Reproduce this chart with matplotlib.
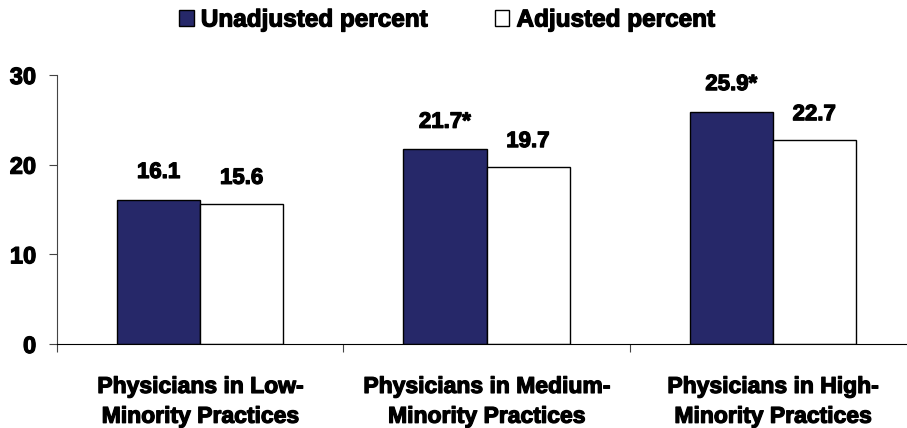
import numpy as np
import matplotlib
matplotlib.use("Agg")
import matplotlib.pyplot as plt
from matplotlib.patches import Patch
import matplotlib.patheffects as pe

categories = ["Physicians in Low-\nMinority Practices",
              "Physicians in Medium-\nMinority Practices",
              "Physicians in High-\nMinority Practices"]
unadjusted = [16.1, 21.7, 25.9]
adjusted = [15.6, 19.7, 22.7]
unadj_labels = ["16.1", "21.7*", "25.9*"]
adj_labels = ["15.6", "19.7", "22.7"]

plt.rcParams['font.family'] = ['Liberation Sans', 'DejaVu Sans']
plt.rcParams['font.weight'] = 'bold'

navy = '#262869'
heavy = [pe.withStroke(linewidth=0.9, foreground='black')]

fig = plt.figure(figsize=(9.07, 4.28), dpi=100)
ax = fig.add_axes([57/907, 1 - 344/428, 850/907, (344 - 75)/428])

x = np.arange(len(categories))
w = 0.29
ax.bar(x - w/2, unadjusted, w, color=navy, edgecolor='black', linewidth=1)
ax.bar(x + w/2, adjusted, w, color='white', edgecolor='black', linewidth=1)

for i in range(len(categories)):
    ax.annotate(unadj_labels[i], (x[i] - w/2, unadjusted[i]), xytext=(0, 12),
                textcoords='offset points', ha='center', va='bottom',
                fontsize=16, fontweight='bold', path_effects=heavy)
    ax.annotate(adj_labels[i], (x[i] + w/2, adjusted[i]), xytext=(0, 11),
                textcoords='offset points', ha='center', va='bottom',
                fontsize=16, fontweight='bold', path_effects=heavy)

ax.set_ylim(0, 30)
ax.set_yticks([0, 10, 20, 30])
ax.set_xlim(-0.5, 2.5 - 9/286)
ax.set_xticks([-0.5, 0.5, 1.5])
ax.set_xticklabels([])
ax.tick_params(axis='x', length=6, direction='out', color='#444444')
ax.tick_params(axis='y', length=6, direction='out', color='#444444', labelsize=17, pad=9)
for lab in ax.get_yticklabels():
    lab.set_fontweight('bold')
    lab.set_path_effects(heavy)

for i, c in enumerate(categories):
    ax.text(x[i], -0.115, c, transform=ax.get_xaxis_transform(), ha='center', va='top',
            fontsize=16.5, fontweight='bold', linespacing=1.38, path_effects=heavy)

ax.spines['top'].set_visible(False)
ax.spines['right'].set_visible(False)
ax.spines['left'].set_color('#444444')
ax.spines['bottom'].set_color('black')

handles = [Patch(facecolor=navy, edgecolor='black', label='Unadjusted percent'),
           Patch(facecolor='white', edgecolor='black', label='Adjusted percent')]
leg = fig.legend(handles=handles, loc='center', bbox_to_anchor=(447/907, 1 - 20/428), ncol=2,
                 frameon=False, prop={'weight': 'bold', 'size': 17.5}, handlelength=0.6,
                 handleheight=0.6, handletextpad=0.3, columnspacing=2.75)
for t in leg.get_texts():
    t.set_path_effects(heavy)

fig.savefig('out.png', dpi=100)
